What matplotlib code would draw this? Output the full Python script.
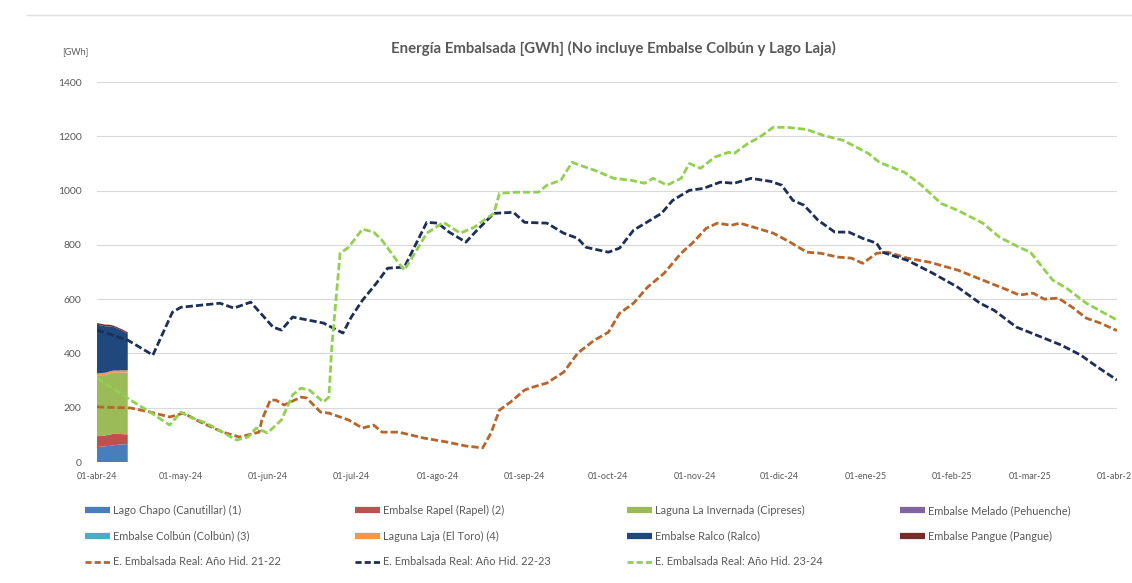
import numpy as np
import matplotlib
matplotlib.use("Agg")
import matplotlib.pyplot as plt
from matplotlib.lines import Line2D

plt.rcParams['font.family'] = ['Lato', 'DejaVu Sans']

inicio = np.datetime64('2024-04-01')

# energia embalsada por embalse, dias desde 01-abr-24
dias_emb = list(range(12))
chapo = [55, 56, 57, 58, 59, 60, 62, 63, 64, 65, 65, 66]
rapel = [40, 40, 39, 40, 41, 42, 42, 40, 39, 38, 37, 36]
invernada = [222, 222, 223, 222, 223, 224, 224, 225, 225, 226, 226, 227]
melado = [1] * 12
colbun = [0] * 12
laja = [8] * 12
ralco = [180, 177, 174, 171, 168, 164, 160, 156, 151, 146, 141, 135]
pangue = [6, 6, 6, 6, 6, 6, 5, 5, 5, 5, 5, 5]

# año hidrologico 21-22
dias_2122 = [0, 12, 19, 26, 31, 37, 45, 51, 58, 59, 62, 64, 67, 73, 75, 80, 83, 90, 95, 99,
             102, 108, 117, 125, 132, 138, 141, 144, 148, 153, 156, 161, 167, 172, 178, 183,
             187, 192, 197, 203, 209, 213, 218, 222, 227, 230, 235, 242, 248, 254, 259, 265,
             270, 274, 279, 283, 290, 298, 308, 317, 326, 330, 335, 339, 344, 349, 354, 359, 365]
e_2122 = [203, 199, 184, 166, 180, 147, 110, 92, 110, 155, 228, 228, 210, 239, 236, 184, 180,
          155, 125, 136, 110, 110, 88, 74, 59, 52, 107, 191, 221, 265, 276, 291, 331, 401,
          449, 478, 548, 585, 644, 696, 769, 806, 861, 880, 872, 880, 865, 843, 810, 773,
          769, 755, 751, 732, 769, 773, 751, 736, 707, 670, 633, 615, 622, 600, 604, 570,
          530, 512, 484]

# año hidrologico 22-23
dias_2223 = [0, 11, 20, 27, 30, 44, 49, 55, 63, 66, 70, 81, 88, 91, 95, 100, 104, 110, 113,
             118, 122, 126, 132, 136, 142, 149, 153, 161, 167, 172, 175, 183, 187, 192, 198,
             202, 206, 212, 217, 223, 228, 234, 241, 245, 249, 253, 258, 264, 269, 274, 279,
             281, 290, 299, 308, 316, 321, 329, 338, 345, 352, 358, 365]
e_2223 = [486, 449, 394, 552, 570, 585, 567, 589, 497, 486, 534, 512, 475, 534, 596, 659,
          714, 718, 780, 883, 880, 847, 810, 854, 916, 920, 883, 880, 843, 824, 791, 773,
          788, 854, 891, 916, 964, 1001, 1008, 1031, 1027, 1045, 1034, 1020, 964, 946, 891,
          847, 847, 824, 806, 773, 743, 696, 644, 585, 559, 497, 460, 431, 394, 350, 302]

# año hidrologico 23-24
dias_2324 = [0, 12, 19, 26, 30, 33, 39, 48, 50, 54, 57, 61, 66, 70, 73, 76, 81, 83, 84, 87,
             90, 95, 99, 102, 108, 110, 115, 118, 124, 130, 135, 140, 142, 144, 150, 158,
             161, 166, 170, 173, 178, 185, 191, 196, 199, 204, 209, 212, 216, 221, 226, 228,
             233, 237, 242, 247, 254, 260, 267, 276, 280, 289, 295, 302, 308, 317, 323, 330,
             334, 342, 347, 354, 365]
e_2324 = [309, 228, 184, 136, 184, 166, 144, 92, 81, 92, 125, 107, 155, 247, 272, 265, 221,
          239, 423, 769, 791, 858, 847, 817, 732, 707, 791, 843, 883, 843, 865, 902, 916, 990,
          994, 994, 1020, 1038, 1104, 1093, 1075, 1045, 1038, 1027, 1045, 1020, 1045, 1100,
          1082, 1123, 1141, 1137, 1174, 1196, 1233, 1233, 1225, 1203, 1185, 1137, 1104, 1067,
          1020, 953, 927, 880, 828, 791, 773, 670, 640, 585, 523]

meses = ['2024-04-01', '2024-05-01', '2024-06-01', '2024-07-01', '2024-08-01', '2024-09-01',
         '2024-10-01', '2024-11-01', '2024-12-01', '2025-01-01', '2025-02-01', '2025-03-01',
         '2025-04-01']
etiquetas = ['01-abr-24', '01-may-24', '01-jun-24', '01-jul-24', '01-ago-24', '01-sep-24',
             '01-oct-24', '01-nov-24', '01-dic-24', '01-ene-25', '01-feb-25', '01-mar-25',
             '01-abr-25']

nombres_emb = ['Lago Chapo (Canutillar) (1)', 'Embalse Rapel (Rapel) (2)',
               'Laguna La Invernada (Cipreses)', 'Embalse Melado (Pehuenche)',
               'Embalse Colbún (Colbún) (3)', 'Laguna Laja (El Toro) (4)',
               'Embalse Ralco (Ralco)', 'Embalse Pangue (Pangue)']
colores_emb = ['#4a7ebb', '#c0504d', '#9bbb59', '#8064a2', '#4bacc6', '#f79646',
               '#1f497d', '#772c2a']

gris = '#595959'

def fechas(d):
    return inicio + np.array(d).astype('timedelta64[D]')

fig = plt.figure(figsize=(11.32, 5.83), dpi=100)
ax = fig.add_axes([97 / 1132, 121 / 583, 1020 / 1132, 380 / 583])

ax.stackplot(fechas(dias_emb), chapo, rapel, invernada, melado, colbun, laja, ralco, pangue,
             colors=colores_emb, linewidth=0)

estilo = (0, (2.6, 1.1))
l1, = ax.plot(fechas(dias_2122), e_2122, color='#b8652a', lw=2, ls=estilo)
l2, = ax.plot(fechas(dias_2223), e_2223, color='#1c2f5a', lw=2, ls=estilo)
l3, = ax.plot(fechas(dias_2324), e_2324, color='#92d050', lw=2, ls=estilo)

ax.set_ylim(0, 1400)
ax.set_yticks(range(0, 1401, 200))
ax.set_xlim(np.datetime64('2024-04-01'), np.datetime64('2025-04-01'))
ax.set_xticks([np.datetime64(m) for m in meses])
ax.set_xticklabels(etiquetas)
ax.grid(axis='y', color='#d9d9d9', lw=0.8)
ax.set_axisbelow(True)
for s in ax.spines.values():
    s.set_visible(False)
ax.tick_params(axis='both', length=0, colors=gris, labelsize=6.5)
ax.tick_params(axis='y', pad=11, labelsize=7.5)
ax.tick_params(axis='x', pad=7)

fig.text(613 / 1132, 1 - 48 / 583, 'Energía Embalsada [GWh] (No incluye Embalse Colbún y Lago Laja)',
         ha='center', va='center', fontsize=10.8, fontweight='bold', color=gris)
fig.text(62 / 1132, 1 - 52 / 583, '[GWh]', ha='left', va='center', fontsize=6.5, color=gris)

# borde superior de la captura
fig.add_artist(Line2D([27 / 1132, 1], [1 - 15 / 583] * 2, color='#e0e0e0', lw=1))

# leyenda en 4 columnas
def parche(c):
    return Line2D([], [], color=c, lw=4.5, solid_capstyle='butt')

def linea(l):
    return Line2D([], [], color=l.get_color(), lw=2, ls=(0, (2.2, 1.1)))

columnas = [
    ([parche(colores_emb[0]), parche(colores_emb[4]), linea(l1)],
     [nombres_emb[0], nombres_emb[4], 'E. Embalsada Real: Año Hid. 21-22']),
    ([parche(colores_emb[1]), parche(colores_emb[5]), linea(l2)],
     [nombres_emb[1], nombres_emb[5], 'E. Embalsada Real: Año Hid. 22-23']),
    ([parche(colores_emb[2]), parche(colores_emb[6]), linea(l3)],
     [nombres_emb[2], nombres_emb[6], 'E. Embalsada Real: Año Hid. 23-24']),
    ([parche(colores_emb[3]), parche(colores_emb[7])],
     [nombres_emb[3], nombres_emb[7]]),
]
x_col = [85, 355, 627, 900]
for (h, t), xc in zip(columnas, x_col):
    leg = fig.legend(h, t, loc='upper left', bbox_to_anchor=(xc / 1132, 1 - 505 / 583),
                     frameon=False, fontsize=7.9, handlelength=2.3, handletextpad=0.25,
                     labelspacing=1.34, borderpad=0, borderaxespad=0)
    for tx in leg.get_texts():
        tx.set_color(gris)

fig.savefig('out.png', dpi=100)
